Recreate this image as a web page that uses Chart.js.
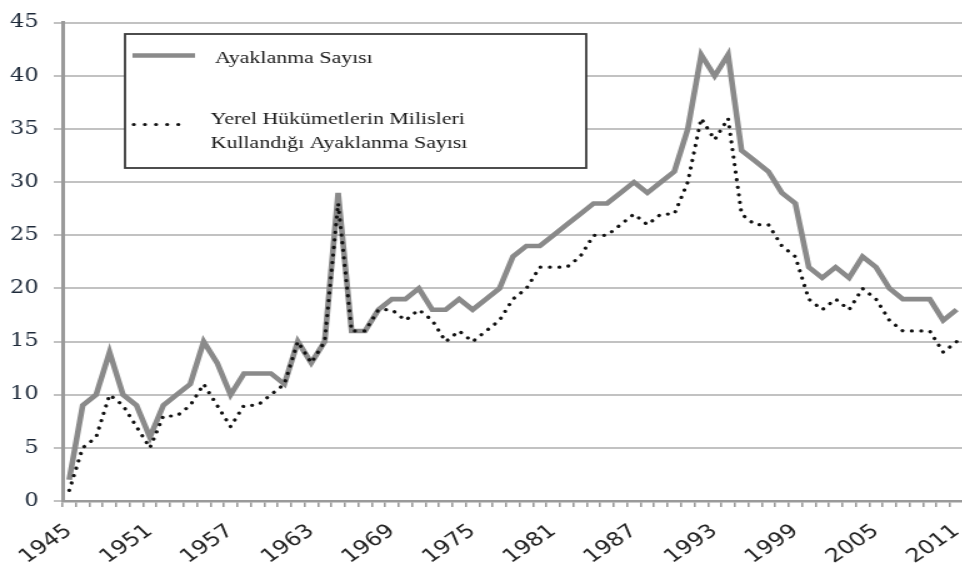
<!DOCTYPE html>
<html>
<head>
<meta charset="utf-8">
<script src="https://cdn.jsdelivr.net/npm/chart.js@4.4.1/dist/chart.umd.min.js"></script>
<style>
  html, body { margin: 0; padding: 0; background: #fff; overflow: hidden; }
  /* the source picture is stretched sideways, so the chart is drawn narrow and widened */
  #wrap { width: 773px; height: 568px; transform: scaleX(1.25); transform-origin: 0 0; }
</style>
</head>
<body>
<div id="wrap"><canvas id="chart"></canvas></div>
<script>
const years = [];
for (let y = 1945; y <= 2011; y++) years.push(String(y));

// Ayaklanma Sayısı
const ayaklanma = [
  2, 9, 10, 14, 10, 9, 6, 9, 10, 11,
  15, 13, 10, 12, 12, 12, 11, 15, 13, 15,
  29, 16, 16, 18, 19, 19, 20, 18, 18, 19,
  18, 19, 20, 23, 24, 24, 25, 26, 27, 28,
  28, 29, 30, 29, 30, 31, 35, 42, 40, 42,
  33, 32, 31, 29, 28, 22, 21, 22, 21, 23,
  22, 20, 19, 19, 19, 17, 18
];

// Yerel Hükümetlerin Milisleri Kullandığı Ayaklanma Sayısı
const milisli = [
  1, 5, 6, 10, 9, 7, 5, 8, 8, 9,
  11, 9, 7, 9, 9, 10, 11, 15, 13, 15,
  28, 16, 16, 18, 18, 17, 18, 17, 15, 16,
  15, 16, 17, 19, 20, 22, 22, 22, 23, 25,
  25, 26, 27, 26, 27, 27, 30, 36, 34, 36,
  27, 26, 26, 24, 23, 19, 18, 19, 18, 20,
  19, 17, 16, 16, 16, 14, 15
];

const seriesNames = ['Ayaklanma Sayısı', ['Yerel Hükümetlerin Milisleri', 'Kullandığı Ayaklanma Sayısı']];
const yMin = 0, yMax = 45, yStep = 5;
const labelEvery = 6;

// boxed legend in the upper left, drawn over the grid
const legendBox = {
  id: 'legendBox',
  afterDraw(chart) {
    const ctx = chart.ctx;
    ctx.save();
    ctx.fillStyle = '#fff';
    ctx.fillRect(100, 34, 369, 134);
    ctx.strokeStyle = '#3a3a3a';
    ctx.lineWidth = 1.8;
    ctx.strokeRect(100, 34, 369, 134);

    ctx.strokeStyle = '#8a8a8a';
    ctx.lineWidth = 4.6;
    ctx.beginPath(); ctx.moveTo(106, 55.5); ctx.lineTo(156, 55.5); ctx.stroke();

    ctx.strokeStyle = '#111';
    ctx.lineWidth = 3.2;
    ctx.lineCap = 'round';
    ctx.setLineDash([0.1, 8.8]);
    ctx.beginPath(); ctx.moveTo(107, 124.5); ctx.lineTo(151, 124.5); ctx.stroke();
    ctx.setLineDash([]);

    ctx.fillStyle = '#1a1a1a';
    ctx.font = '17.5px "Liberation Serif", serif';
    ctx.textBaseline = 'alphabetic';
    ctx.fillText(seriesNames[0], 172, 63);
    ctx.fillText(seriesNames[1][0], 168.5, 124);
    ctx.fillText(seriesNames[1][1], 168.5, 148);
    ctx.restore();
  }
};

new Chart(document.getElementById('chart'), {
  type: 'line',
  data: {
    labels: years,
    datasets: [
      { label: seriesNames[0], data: ayaklanma, borderColor: '#8a8a8a', borderWidth: 4.6, tension: 0, pointRadius: 0, fill: false, order: 1, borderJoinStyle: 'miter' },
      { label: seriesNames[1].join(' '), data: milisli, borderColor: '#111', borderWidth: 3.2, borderDash: [0.1, 7.5], borderCapStyle: 'round', tension: 0, pointRadius: 0, fill: false, order: 0 }
    ]
  },
  options: {
    responsive: true,
    maintainAspectRatio: false,
    animation: false,
    layout: { padding: { top: 18, right: 0, left: 0, bottom: 0 } },
    plugins: { legend: { display: false }, tooltip: { enabled: false } },
    scales: {
      x: {
        offset: true,
        grid: { drawOnChartArea: false, drawTicks: true, tickLength: 6, offset: true, color: '#9a9a9a', lineWidth: 1.6 },
        border: { display: true, color: '#9a9a9a', width: 2.5 },
        ticks: {
          autoSkip: false, maxRotation: 40, minRotation: 40, padding: 13,
          color: '#222', font: { family: 'DejaVu Sans', size: 19 },
          callback: (v, i) => (i % labelEvery === 0 ? years[i] : '')
        },
        afterFit: (s) => { s.height = 67; s.paddingLeft = 0; s.paddingRight = 0; }
      },
      y: {
        min: yMin, max: yMax,
        grid: { color: '#c2c2c2', lineWidth: 2, tickLength: 7 },
        border: { display: true, color: '#9a9a9a', width: 3 },
        ticks: { stepSize: yStep, padding: 12, color: '#1e2a3a', font: { family: 'DejaVu Serif', size: 18 } },
        afterFit: (s) => { s.width = 50; }
      }
    }
  },
  plugins: [legendBox]
});
</script>
</body>
</html>
